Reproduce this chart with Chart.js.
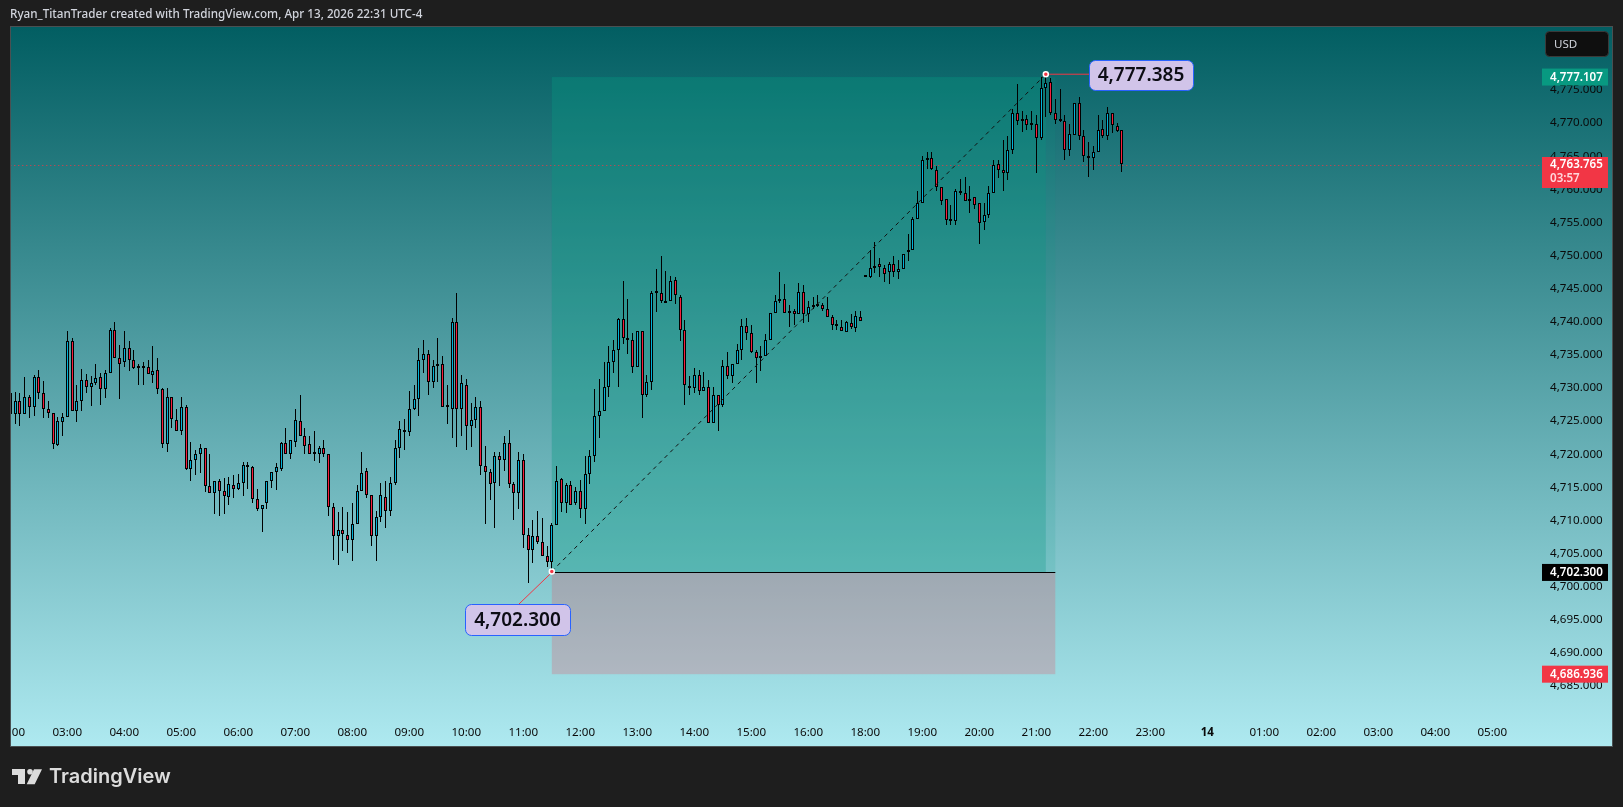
<!DOCTYPE html>
<html>
<head>
<meta charset="utf-8">
<title>XAUUSD 5m</title>
<script src="https://cdn.jsdelivr.net/npm/chart.js@4/dist/chart.umd.min.js"></script>
<style>
  html, body { margin: 0; padding: 0; background: #1e1e1e; overflow: hidden; }
  canvas { display: block; }
</style>
</head>
<body>
<canvas id="chart" width="1623" height="807"></canvas>
<script>
// 5 minute candles
var opens = [
  4729.3,4726.1,4728.0,4726.0,4728.6,4727.1,4731.6,4729.3,4726.9,4726.3,4721.4,4724.9,
  4725.6,4737.1,4726.5,4728.1,4731.2,4730.1,4730.8,4731.6,4729.8,4732.2,4738.7,4734.5,
  4733.9,4736.1,4734.2,4733.0,4733.1,4733.1,4732.0,4732.7,4729.8,4721.5,4728.6,4725.1,
  4723.5,4727.2,4717.7,4719.2,4720.0,4720.9,4715.2,4714.2,4716.0,4714.4,4713.6,4715.3,
  4714.8,4715.6,4718.0,4718.0,4713.2,4711.7,4712.6,4715.9,4717.3,4717.8,4721.7,4720.0,
  4721.9,4725.0,4722.8,4721.5,4720.1,4720.1,4720.9,4720.1,4712.0,4707.6,4708.5,4707.8,
  4707.0,4709.4,4714.4,4717.4,4713.9,4707.6,4710.5,4713.6,4711.4,4715.6,4721.0,4723.6,
  4723.3,4726.9,4728.4,4734.2,4735.2,4730.9,4733.3,4733.6,4727.1,4726.9,4739.9,4726.8,
  4730.4,4724.2,4725.1,4727.1,4718.2,4717.3,4715.6,4719.8,4719.1,4721.7,4715.5,4714.1,
  4719.2,4707.8,4705.6,4707.6,4706.7,4704.7,4703.8,4709.3,4716.2,4712.7,4715.3,4712.6,
  4714.4,4711.7,4717.0,4719.7,4725.7,4726.5,4730.2,4734.0,4735.8,4740.4,4737.6,4737.3,
  4733.1,4738.6,4729.0,4730.9,4744.5,4744.4,4742.9,4743.2,4746.3,4743.8,4738.7,4730.1,
  4730.0,4731.9,4729.5,4730.1,4724.7,4729.0,4727.5,4733.3,4731.8,4733.6,4735.8,4739.3,
  4738.3,4735.5,4734.8,4734.8,4737.3,4741.4,4743.1,4743.5,4741.4,4741.7,4741.1,4744.5,
  4741.1,4742.2,4742.6,4742.5,4741.9,4740.7,4739.5,4739.2,4738.4,4739.8,4739.0,4740.7,
  4746.8,4746.7,4748.1,4748.8,4748.1,4747.5,4748.8,4747.5,4747.9,4750.5,4750.9,4755.5,
  4757.9,4764.4,4764.8,4762.9,4760.4,4758.5,4755.3,4755.2,4759.8,4759.4,4758.2,4758.8,
  4757.9,4755.0,4756.2,4759.5,4763.8,4762.9,4762.4,4766.0,4771.5,4770.3,4770.6,4769.8,
  4769.8,4767.8,4775.3,4776.2,4771.5,4770.4,4770.3,4765.9,4768.2,4773.0,4768.0,4765.1,
  4764.8,4765.7,4769.1,4768.0,4771.5,4769.5,4768.9
];
var highs = [
  4729.8,4729.4,4729.2,4731.7,4728.9,4731.9,4732.7,4731.0,4728.1,4726.3,4725.6,4726.2,
  4738.6,4737.6,4730.4,4732.9,4732.1,4731.8,4733.7,4732.2,4732.7,4739.0,4740.0,4736.5,
  4738.6,4737.1,4735.8,4733.6,4734.0,4734.3,4736.3,4734.6,4730.0,4730.0,4728.7,4726.8,
  4728.6,4727.5,4721.9,4720.7,4721.5,4720.9,4720.0,4716.0,4716.2,4716.4,4716.5,4716.8,
  4717.0,4718.9,4718.9,4718.2,4714.7,4712.4,4716.0,4717.3,4718.6,4721.9,4724.0,4722.2,
  4726.8,4729.0,4724.0,4722.8,4723.5,4721.2,4722.2,4720.1,4712.7,4711.3,4712.0,4711.3,
  4712.7,4715.3,4720.3,4717.9,4713.9,4711.4,4715.6,4715.9,4716.5,4722.2,4725.0,4725.3,
  4729.6,4730.5,4736.1,4737.2,4735.7,4734.3,4737.5,4734.9,4730.5,4740.5,4744.4,4731.9,
  4731.3,4727.7,4728.6,4728.0,4721.3,4717.7,4720.3,4720.4,4722.8,4723.6,4715.8,4720.4,
  4720.0,4708.8,4710.0,4711.4,4710.3,4706.2,4709.6,4718.2,4716.4,4715.6,4715.9,4715.1,
  4716.1,4719.8,4720.7,4729.8,4731.3,4734.0,4736.3,4737.2,4740.5,4746.1,4743.5,4738.3,
  4738.6,4738.6,4731.9,4744.6,4747.9,4750.0,4747.6,4746.9,4746.7,4744.1,4740.2,4731.8,
  4733.0,4732.7,4732.4,4731.2,4730.2,4729.0,4734.2,4735.4,4733.6,4736.6,4740.4,4740.5,
  4739.5,4735.8,4736.4,4738.1,4741.4,4744.0,4747.5,4745.7,4742.5,4741.9,4745.8,4745.5,
  4743.2,4743.7,4744.1,4742.8,4743.8,4741.0,4740.2,4740.2,4740.1,4741.1,4741.7,4741.7,
  4746.9,4750.8,4752.0,4749.7,4748.5,4749.0,4749.9,4749.3,4750.3,4753.2,4755.8,4759.7,
  4765.0,4765.6,4765.6,4763.5,4760.4,4758.6,4757.7,4760.0,4761.5,4761.8,4760.5,4758.8,
  4758.0,4757.9,4760.5,4764.5,4764.5,4767.4,4768.1,4772.1,4775.9,4771.8,4771.2,4771.9,
  4771.2,4776.9,4777.385,4776.8,4773.7,4775.1,4771.3,4769.8,4773.1,4773.9,4768.9,4767.2,
  4766.6,4771.2,4770.4,4772.5,4771.6,4770.0,4769.0
];
var lows = [
  4723.3,4724.6,4724.3,4726.0,4725.4,4725.8,4728.4,4725.5,4725.5,4720.8,4721.3,4722.8,
  4725.6,4726.5,4724.8,4726.6,4729.3,4727.3,4730.4,4727.5,4728.5,4732.2,4734.5,4728.4,
  4733.2,4732.5,4732.8,4730.4,4730.4,4732.1,4730.7,4729.1,4721.0,4720.4,4724.0,4723.5,
  4722.9,4717.6,4716.0,4716.8,4717.1,4714.3,4714.1,4711.0,4710.6,4710.9,4712.4,4713.4,
  4714.6,4713.7,4714.8,4712.7,4711.5,4708.3,4711.8,4714.9,4714.6,4717.5,4720.0,4719.3,
  4721.1,4722.8,4720.1,4720.1,4719.0,4718.6,4719.6,4710.6,4704.1,4703.3,4705.4,4705.1,
  4703.9,4709.4,4714.4,4713.4,4706.2,4703.9,4709.7,4708.9,4710.7,4715.4,4719.5,4720.6,
  4722.7,4726.7,4725.7,4732.2,4729.0,4730.0,4730.9,4727.1,4724.5,4722.5,4721.1,4722.7,
  4720.7,4721.1,4723.9,4716.9,4709.5,4713.1,4708.9,4715.2,4717.4,4714.9,4710.1,4711.8,
  4705.9,4700.6,4703.5,4706.4,4704.7,4703.0,4702.3,4709.3,4711.3,4711.1,4712.4,4712.3,
  4710.4,4709.5,4715.5,4718.9,4722.5,4726.5,4728.7,4732.3,4730.2,4736.7,4735.2,4732.3,
  4733.1,4725.5,4728.7,4729.7,4741.5,4742.9,4742.9,4743.2,4742.7,4737.1,4727.5,4729.0,
  4729.3,4729.0,4729.5,4724.7,4724.7,4723.5,4727.1,4731.3,4730.8,4733.6,4734.3,4737.3,
  4735.3,4730.8,4732.5,4734.8,4737.2,4741.4,4742.8,4741.4,4739.2,4739.5,4741.1,4739.8,
  4740.0,4742.0,4742.2,4741.6,4740.7,4738.7,4738.7,4738.6,4738.4,4738.9,4738.4,4740.1,
  4746.7,4746.6,4747.3,4746.7,4746.0,4745.7,4746.7,4746.4,4747.9,4749.2,4750.9,4755.5,
  4757.9,4763.0,4762.9,4759.7,4757.6,4754.6,4754.6,4754.6,4759.2,4758.2,4756.5,4757.0,
  4751.7,4753.8,4755.6,4759.5,4761.7,4759.7,4761.4,4765.4,4769.7,4768.6,4768.9,4768.9,
  4762.5,4767.5,4770.9,4771.3,4769.8,4770.2,4764.5,4765.1,4768.2,4767.4,4764.2,4761.8,
  4762.9,4765.7,4767.7,4767.5,4768.5,4768.6,4762.6
];
var closes = [
  4726.1,4728.0,4726.0,4728.6,4727.1,4731.6,4729.3,4726.8,4726.3,4721.5,4725.0,4725.6,
  4737.1,4726.5,4728.1,4731.2,4730.1,4730.8,4731.5,4729.8,4732.2,4738.7,4734.5,4733.7,
  4736.1,4734.2,4733.0,4733.0,4733.0,4732.1,4732.6,4729.8,4721.5,4728.6,4725.3,4723.5,
  4727.1,4717.7,4719.2,4720.1,4720.9,4715.2,4714.2,4716.0,4714.4,4713.7,4715.5,4714.8,
  4715.6,4718.3,4718.0,4713.2,4711.8,4712.4,4715.9,4717.3,4718.0,4721.7,4720.0,4722.1,
  4725.1,4722.8,4721.3,4720.1,4720.1,4720.9,4720.0,4712.0,4707.6,4708.5,4707.9,4707.0,
  4709.4,4714.4,4717.1,4713.9,4707.6,4710.5,4713.8,4711.4,4715.6,4721.0,4723.8,4723.3,
  4726.9,4728.4,4734.2,4735.2,4730.9,4733.3,4733.6,4727.2,4727.1,4739.9,4726.8,4730.7,
  4724.2,4725.1,4727.2,4718.2,4717.3,4715.5,4719.8,4719.1,4721.7,4715.5,4714.2,4719.2,
  4707.8,4705.6,4707.6,4706.7,4704.7,4703.8,4709.3,4716.0,4712.7,4715.4,4712.4,4714.4,
  4711.7,4717.0,4719.7,4725.7,4726.5,4730.2,4734.0,4735.8,4740.4,4737.6,4737.3,4733.1,
  4738.6,4728.9,4730.9,4744.3,4744.4,4743.1,4743.2,4746.1,4744.0,4738.7,4730.4,4730.0,
  4731.9,4729.6,4730.1,4724.7,4729.0,4727.4,4733.3,4731.8,4733.6,4735.8,4739.3,4738.3,
  4735.5,4734.6,4734.6,4737.3,4741.4,4743.2,4743.5,4741.4,4741.7,4741.1,4744.5,4741.1,
  4742.3,4742.6,4742.4,4741.9,4740.7,4739.5,4739.4,4738.6,4739.9,4739.2,4740.8,4740.1,
  4746.7,4748.1,4748.4,4748.2,4747.2,4748.7,4747.5,4747.9,4750.3,4750.9,4755.5,4758.0,
  4764.4,4764.8,4763.0,4760.4,4758.3,4755.3,4755.2,4759.7,4759.4,4758.2,4758.6,4757.7,
  4754.9,4756.2,4759.5,4763.6,4762.9,4762.4,4766.0,4771.5,4770.3,4770.6,4769.7,4769.7,
  4767.7,4775.3,4776.0,4771.6,4770.4,4770.3,4765.9,4768.3,4773.0,4768.0,4765.1,4764.8,
  4765.7,4768.9,4768.0,4771.5,4769.7,4768.8,4763.765
];

// one label per hour, every 12 slots
var hourLabels = ['02:00','03:00','04:00','05:00','06:00','07:00','08:00','09:00','10:00','11:00','12:00','13:00',
  '14:00','15:00','16:00','18:00','19:00','20:00','21:00','22:00','23:00','14','01:00','02:00','03:00','04:00','05:00'];
var priceTicks = [4685,4690,4695,4700,4705,4710,4715,4720,4725,4730,4735,4740,4745,4750,4755,4760,4765,4770,4775];

var slotCount = 324;
var yMin = 4680.47, yMax = 4784.59;

// long position tool
var lowIdx = 114, highIdx = 218, toolEndIdx = 220;
var entryPrice = 4702.3, targetPrice = 4777.107, stopPrice = 4686.936;
var lowPrice = 4702.3, highPrice = 4777.385, lastPrice = 4763.765;

var slots = [];
for (var i = 0; i < slotCount; i++) slots.push(i % 12 === 0 ? hourLabels[i / 12] : '');

var wicks = highs.map(function (h, i) { return [lows[i], h]; });
var bodies = opens.map(function (o, i) { return [o, closes[i]]; });

var diagonal = [];
for (var j = 0; j < slotCount; j++) diagonal.push(j === lowIdx ? lowPrice : j === highIdx ? highPrice : null);

var FONT = '"Noto Sans", sans-serif';

function roundRect(c, x, y, w, h, r) {
  c.beginPath();
  c.roundRect(x, y, w, h, r);
}

function priceTag(c, y, h, bg, text) {
  c.fillStyle = bg;
  c.fillRect(1542, y - h / 2, 66, h);
  c.fillStyle = '#fff';
  c.font = '600 11.6px ' + FONT;
  c.textAlign = 'left';
  c.textBaseline = 'middle';
  c.fillText(text, 1550, y + 0.5);
}

function noteBox(c, x, y, w, h, text) {
  roundRect(c, x + 0.5, y + 0.5, w, h, 6);
  c.fillStyle = '#d1c4e9';
  c.fill();
  c.strokeStyle = '#2962ff';
  c.lineWidth = 1;
  c.stroke();
  c.fillStyle = '#0c0c14';
  c.font = '600 19px ' + FONT;
  c.textAlign = 'center';
  c.textBaseline = 'middle';
  c.fillText(text, x + w / 2, y + h / 2 + 1);
}

var tvBackdrop = {
  id: 'tvBackdrop',
  beforeDraw: function (chart) {
    var c = chart.ctx;
    c.save();
    c.fillStyle = '#1e1e1e';
    c.fillRect(0, 0, 1623, 807);
    var g = c.createLinearGradient(0, 27, 0, 746);
    g.addColorStop(0, '#025e62');
    g.addColorStop(1, '#aee9f0');
    c.fillStyle = g;
    c.fillRect(10, 26.5, 1603, 720);
    c.restore();
  },
  beforeDatasetsDraw: function (chart) {
    var c = chart.ctx, x = chart.scales.x, y = chart.scales.y;
    // snap candles to whole pixels
    chart.data.datasets.forEach(function (ds, n) {
      if (ds.type === 'line') return;
      chart.getDatasetMeta(n).data.forEach(function (el) {
        el.x = Math.floor(el.x) + 0.5;
        el.y = Math.round(el.y);
        el.base = Math.round(el.base);
      });
    });
    var x0 = x.getPixelForValue(lowIdx), x1 = x.getPixelForValue(highIdx), x2 = x.getPixelForValue(toolEndIdx);
    // the tool sits a pixel under the candle read-off
    var yT = y.getPixelForValue(targetPrice) + 1, yE = y.getPixelForValue(entryPrice) + 1, yS = y.getPixelForValue(stopPrice) + 1;
    c.save();
    c.fillStyle = 'rgba(8,153,129,0.12)';
    c.fillRect(x0, yT, x2 - x0, yE - yT);
    c.fillStyle = 'rgba(8,153,129,0.27)';
    c.fillRect(x0, yT, x1 - x0, yE - yT);
    c.fillStyle = 'rgba(220,100,115,0.3)';
    c.fillRect(x0, yE, x2 - x0, yS - yE);
    c.strokeStyle = '#000';
    c.lineWidth = 1;
    c.beginPath();
    c.moveTo(x0, Math.round(yE) + 0.5);
    c.lineTo(x2, Math.round(yE) + 0.5);
    c.stroke();
    // last price line
    var yL = Math.round(y.getPixelForValue(lastPrice)) + 1.5;
    c.strokeStyle = '#f23645';
    c.setLineDash([1, 3]);
    c.beginPath();
    c.moveTo(x.left, yL);
    c.lineTo(1542, yL);
    c.stroke();
    c.setLineDash([]);
    // note connectors
    c.strokeStyle = '#f23645';
    c.beginPath();
    c.moveTo(x1, y.getPixelForValue(highPrice));
    c.lineTo(1089, y.getPixelForValue(highPrice));
    c.moveTo(x0, yE);
    c.lineTo(519, 604);
    c.stroke();
    c.restore();
  },
  afterDraw: function (chart) {
    var c = chart.ctx, y = chart.scales.y;
    c.save();
    // keep the clipped first time label inside the frame
    c.fillStyle = '#1e1e1e';
    c.fillRect(0, 26, 10, 722);
    c.strokeStyle = '#4a5052';
    c.lineWidth = 1;
    c.strokeRect(10.5, 26.5, 1602, 720);

    noteBox(c, 1089, 60, 104, 30, '4,777.385');
    noteBox(c, 465, 604, 105, 31, '4,702.300');

    priceTag(c, y.getPixelForValue(targetPrice) + 1, 17, '#089981', '4,777.107');
    c.fillStyle = '#f23645';
    c.fillRect(1542, 157, 66, 31);
    c.fillStyle = '#fff';
    c.font = '600 11.6px ' + FONT;
    c.textAlign = 'left';
    c.textBaseline = 'middle';
    c.fillText('4,763.765', 1550, 164.5);
    c.fillStyle = '#ffd6da';
    c.fillText('03:57', 1550, 178.5);
    priceTag(c, y.getPixelForValue(entryPrice) + 1, 17, '#000', '4,702.300');
    priceTag(c, y.getPixelForValue(stopPrice) + 1, 17, '#f23645', '4,686.936');

    // currency button
    roundRect(c, 1545.5, 31.5, 63, 25, 4);
    c.fillStyle = '#0f0f0f';
    c.fill();
    c.strokeStyle = '#3a3a3a';
    c.stroke();
    c.fillStyle = '#d1d4dc';
    c.font = '11.6px ' + FONT;
    c.fillText('USD', 1554, 44.5);

    // header
    c.fillStyle = '#d1d4dc';
    c.font = '500 11.7px ' + FONT;
    c.textBaseline = 'middle';
    c.fillText('Ryan_TitanTrader created with TradingView.com, Apr 13, 2026 22:31 UTC-4', 10, 14.5);

    // logo
    c.fillStyle = '#dcdcdc';
    c.beginPath();
    c.moveTo(12, 769); c.lineTo(25, 769); c.lineTo(25, 784); c.lineTo(18, 784);
    c.lineTo(18, 775); c.lineTo(12, 775); c.closePath();
    c.moveTo(34, 769.3); c.lineTo(42, 769.3); c.lineTo(34.7, 784.3); c.lineTo(26.7, 784.3); c.closePath();
    c.fill();
    c.beginPath();
    c.arc(30, 771.8, 2.8, 0, Math.PI * 2);
    c.fill();
    c.font = '600 20px Inter, ' + FONT;
    c.textBaseline = 'middle';
    c.fillText('TradingView', 49, 777);
    c.restore();
  }
};

new Chart(document.getElementById('chart'), {
  type: 'bar',
  plugins: [tvBackdrop],
  data: {
    labels: slots,
    datasets: [
      {
        type: 'line',
        data: diagonal,
        spanGaps: true,
        borderColor: '#111',
        borderWidth: 1,
        borderDash: [4, 4],
        pointRadius: function (ctx) { return ctx.raw === null ? 0 : 2.5; },
        pointBackgroundColor: '#f23645',
        pointBorderColor: '#fff',
        pointBorderWidth: 1.5,
        order: 0
      },
      {
        data: bodies,
        grouped: false,
        barThickness: 3,
        minBarLength: 2,
        borderWidth: 1,
        borderColor: '#000',
        borderSkipped: false,
        inflateAmount: 0,
        backgroundColor: function (ctx) {
          return closes[ctx.dataIndex] >= opens[ctx.dataIndex] ? '#00b4d8' : '#f5203f';
        },
        order: 1
      },
      {
        data: wicks,
        grouped: false,
        barThickness: 1,
        borderWidth: 0,
        inflateAmount: 0,
        backgroundColor: '#000',
        order: 2
      }
    ]
  },
  options: {
    responsive: false,
    animation: false,
    devicePixelRatio: 1,
    events: [],
    layout: {
      autoPadding: false,
      padding: { left: 10.3, right: 20, top: 26.5, bottom: 61 }
    },
    plugins: { legend: { display: false }, tooltip: { enabled: false } },
    scales: {
      x: {
        type: 'category',
        offset: false,
        grid: { display: false, drawTicks: false },
        border: { display: false },
        afterFit: function (s) { s.height = 30; s.paddingLeft = 0; s.paddingRight = 0; },
        ticks: {
          autoSkip: false,
          maxRotation: 0,
          minRotation: 0,
          padding: 10,
          color: '#0a0a0a',
          font: function (ctx) {
            return { family: FONT, size: 11.6, weight: ctx.tick && ctx.tick.label === '14' ? 'bold' : 'normal' };
          }
        }
      },
      y: {
        position: 'right',
        min: yMin,
        max: yMax,
        grid: { display: false, drawTicks: false },
        border: { display: false },
        afterBuildTicks: function (s) { s.ticks = priceTicks.map(function (v) { return { value: v }; }); },
        afterFit: function (s) { s.width = 58.45; s.paddingTop = 0; s.paddingBottom = 0; },
        ticks: {
          padding: 5.5,
          color: '#0a0a0a',
          font: { family: FONT, size: 11.6 },
          callback: function (v) { return v.toLocaleString('en-US', { minimumFractionDigits: 3 }); }
        }
      }
    }
  }
});
</script>
</body>
</html>
